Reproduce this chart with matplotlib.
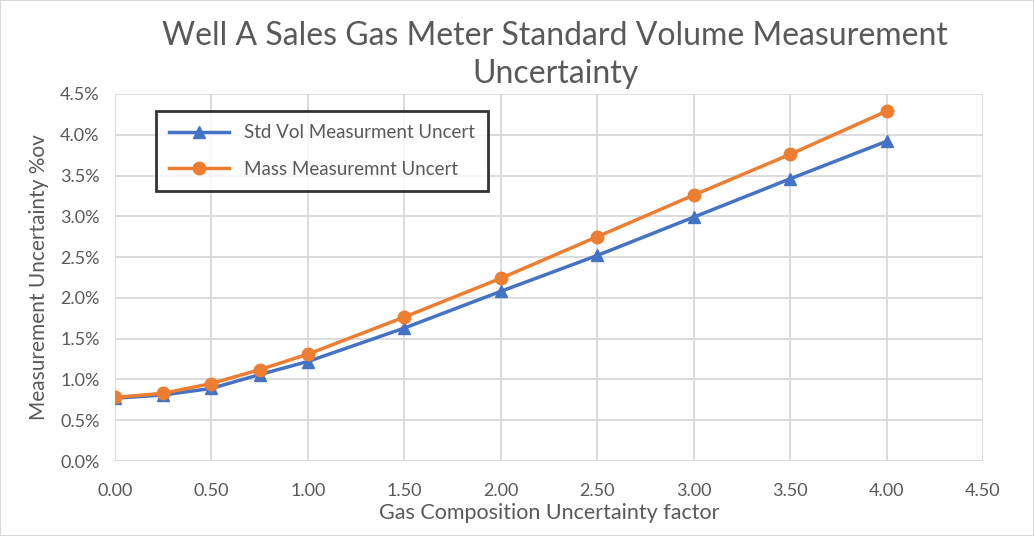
import matplotlib
matplotlib.use("Agg")
import matplotlib.pyplot as plt
from matplotlib.ticker import FuncFormatter, MultipleLocator

plt.rcParams['font.family'] = ['Lato', 'DejaVu Sans']

# Gas composition uncertainty factor vs measurement uncertainty (%)
factor = [0.0, 0.25, 0.5, 0.75, 1.0, 1.5, 2.0, 2.5, 3.0, 3.5, 4.0]
std_vol = [0.77, 0.81, 0.89, 1.06, 1.22, 1.63, 2.08, 2.52, 2.99, 3.46, 3.92]
mass = [0.78, 0.83, 0.95, 1.12, 1.31, 1.765, 2.24, 2.75, 3.26, 3.76, 4.29]

text_col = '#595959'
fig = plt.figure(figsize=(10.34, 5.36), dpi=100)
ax = fig.add_axes([115 / 1034, 1 - 461 / 536, (983 - 115) / 1034, (461 - 94) / 536])

ax.plot(factor, std_vol, color='#4472C4', lw=2.5, marker='^', ms=9,
        label='Std Vol Measurment Uncert')
ax.plot(factor, mass, color='#ED7D31', lw=2.5, marker='o', ms=9,
        label='Mass Measuremnt Uncert')

ax.set_xlim(0, 4.5)
ax.set_ylim(0, 4.5)
ax.xaxis.set_major_locator(MultipleLocator(0.5))
ax.yaxis.set_major_locator(MultipleLocator(0.5))
ax.xaxis.set_major_formatter(FuncFormatter(lambda v, p: f'{v:.2f}'))
ax.yaxis.set_major_formatter(FuncFormatter(lambda v, p: f'{v:.1f}%'))
ax.grid(True, color='#D9D9D9', lw=1.3)
ax.set_axisbelow(True)
for s in ax.spines.values():
    s.set_visible(False)
ax.tick_params(length=0, labelsize=13, colors=text_col)
ax.tick_params(axis='x', pad=16)
ax.tick_params(axis='y', pad=11)

ax.set_xlabel('Gas Composition Uncertainty factor', fontsize=15.5, color=text_col, labelpad=3)
ax.set_ylabel('Measurement Uncertainty %ov', fontsize=15, color=text_col, labelpad=8)
fig.text(0.537, 1 - 55 / 536, 'Well A Sales Gas Meter Standard Volume Measurement\nUncertainty',
         ha='center', va='center', fontsize=23, color=text_col, linespacing=1.3)

leg = ax.legend(loc='upper left', bbox_to_anchor=(41 / 868, 1 - 17 / 367), fontsize=13.5,
                frameon=True, fancybox=False, edgecolor='black', handlelength=3.2,
                borderpad=0.7, labelspacing=1.05, borderaxespad=0)
leg.get_frame().set_linewidth(2)
for t in leg.get_texts():
    t.set_color(text_col)

fig.patches.append(plt.Rectangle((0, 0), 1, 1, transform=fig.transFigure, fill=False,
                                 edgecolor='#D9D9D9', lw=1.5))
fig.savefig('out.png', dpi=100)
